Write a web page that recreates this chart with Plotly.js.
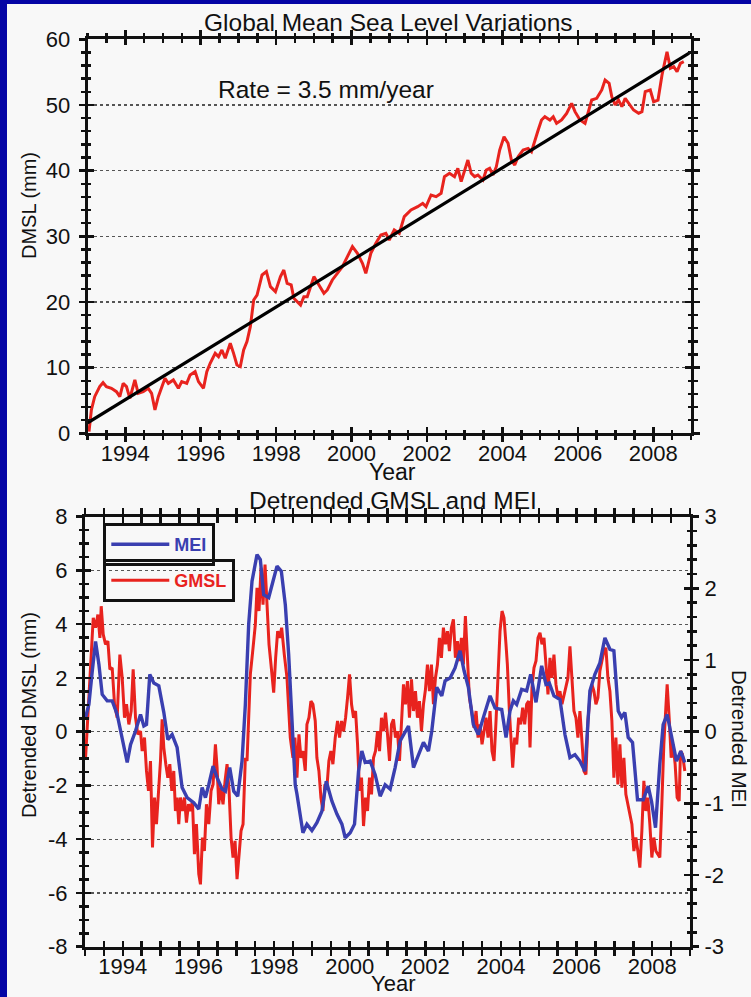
<!DOCTYPE html>
<html>
<head>
<meta charset="utf-8">
<script src="https://cdn.plot.ly/plotly-3.0.1.min.js"></script>
<style>
  html, body { margin: 0; padding: 0; background: #f8f8f8; }
  #chart { width: 751px; height: 997px; }
</style>
</head>
<body>
<div id="chart"></div>
<script>
// ---------- Data ----------
// Top panel: Global Mean Sea Level (mm)
const gmslYears = [
  1993.037, 1993.100, 1993.188, 1993.321, 1993.410, 1993.499, 1993.632, 1993.765, 1993.854, 1993.943,
  1994.031, 1994.120, 1994.253, 1994.342, 1994.475, 1994.608, 1994.697, 1994.786, 1994.875, 1994.963,
  1995.052, 1995.141, 1995.274, 1995.407, 1995.496, 1995.629, 1995.718, 1995.851, 1995.940, 1996.073,
  1996.161, 1996.250, 1996.383, 1996.472, 1996.561, 1996.649, 1996.783, 1996.871, 1996.960, 1997.049,
  1997.138, 1997.226, 1997.315, 1997.404, 1997.493, 1997.626, 1997.741, 1997.848, 1997.981, 1998.114,
  1998.203, 1998.291, 1998.398, 1998.469, 1998.558, 1998.647, 1998.735, 1998.824, 1998.913, 1999.001,
  1999.134, 1999.267, 1999.356, 1999.489, 1999.622, 1999.756, 1999.889, 2000.022, 2000.155, 2000.288,
  2000.377, 2000.510, 2000.643, 2000.776, 2000.909, 2000.998, 2001.131, 2001.264, 2001.397, 2001.575,
  2001.752, 2001.886, 2001.974, 2002.107, 2002.241, 2002.374, 2002.462, 2002.596, 2002.729, 2002.817,
  2002.906, 2002.995, 2003.084, 2003.172, 2003.261, 2003.350, 2003.483, 2003.572, 2003.661, 2003.749,
  2003.838, 2003.927, 2004.042, 2004.149, 2004.237, 2004.326, 2004.415, 2004.548, 2004.681, 2004.770,
  2004.859, 2004.948, 2005.036, 2005.125, 2005.258, 2005.347, 2005.436, 2005.569, 2005.702, 2005.835,
  2005.924, 2006.057, 2006.190, 2006.279, 2006.367, 2006.500, 2006.634, 2006.722, 2006.829, 2006.900,
  2006.989, 2007.077, 2007.166, 2007.255, 2007.343, 2007.477, 2007.610, 2007.699, 2007.787, 2007.920,
  2008.009, 2008.125, 2008.231, 2008.364, 2008.453, 2008.542, 2008.630, 2008.719, 2008.808
];
const gmslValues = [
  0.25, 3.55, 5.58, 7.11, 7.71, 7.11, 6.85, 6.34, 5.58, 7.61,
  7.11, 5.33, 8.12, 6.09, 6.34, 6.85, 6.09, 3.55, 5.58, 7.11,
  8.37, 7.61, 8.12, 6.85, 7.87, 7.61, 8.88, 9.39, 7.87, 6.85,
  9.39, 10.66, 12.18, 11.67, 12.69, 11.42, 13.70, 12.18, 10.40, 10.15,
  12.69, 13.96, 16.24, 20.30, 21.06, 24.11, 24.62, 22.33, 21.57, 23.86,
  24.87, 22.84, 22.59, 20.56, 20.05, 19.54, 20.81, 20.81, 22.33, 23.86,
  22.59, 21.32, 21.83, 23.35, 24.36, 25.38, 26.90, 28.42, 27.41, 25.89,
  24.36, 27.40, 28.93, 30.19, 30.45, 29.43, 30.96, 30.45, 32.99, 34.00,
  34.51, 35.02, 34.51, 36.29, 36.03, 36.54, 39.08, 39.59, 39.08, 40.35,
  38.32, 39.84, 41.62, 39.59, 39.08, 39.33, 38.57, 40.09, 40.35, 39.33,
  40.60, 43.14, 45.17, 44.16, 41.62, 40.85, 42.12, 43.14, 43.39, 42.88,
  44.66, 46.18, 47.71, 48.21, 47.71, 48.21, 47.20, 47.71, 48.72, 50.25,
  48.98, 47.71, 47.20, 48.98, 50.75, 51.01, 52.28, 53.80, 53.29, 51.26,
  49.99, 50.75, 49.74, 51.01, 50.25, 49.23, 48.72, 48.98, 52.02, 52.28,
  50.50, 50.75, 54.56, 58.11, 55.58, 55.83, 55.07, 56.34, 56.59
];
// Linear trend, 3.5 mm/year
const trendYears = [1993.0, 2008.95];
const trendValues = [1.6, 57.9];

// Bottom panel: detrended GMSL (mm)
const detYears = [
  1993.015, 1993.077, 1993.147, 1993.218, 1993.279, 1993.341, 1993.394, 1993.429, 1993.482, 1993.543,
  1993.605, 1993.658, 1993.719, 1993.781, 1993.851, 1993.922, 1993.984, 1994.045, 1994.098, 1994.160,
  1994.221, 1994.274, 1994.336, 1994.397, 1994.468, 1994.512, 1994.573, 1994.626, 1994.679, 1994.732,
  1994.785, 1994.838, 1994.890, 1994.952, 1994.996, 1995.040, 1995.084, 1995.137, 1995.190, 1995.243,
  1995.295, 1995.348, 1995.392, 1995.436, 1995.480, 1995.524, 1995.577, 1995.630, 1995.683, 1995.736,
  1995.788, 1995.841, 1995.894, 1995.947, 1996.009, 1996.053, 1996.105, 1996.158, 1996.211, 1996.273,
  1996.334, 1996.387, 1996.449, 1996.493, 1996.537, 1996.581, 1996.651, 1996.704, 1996.757, 1996.810,
  1996.863, 1996.915, 1996.968, 1997.021, 1997.074, 1997.127, 1997.180, 1997.241, 1997.285, 1997.329,
  1997.373, 1997.444, 1997.505, 1997.549, 1997.602, 1997.655, 1997.708, 1997.761, 1997.813, 1997.866,
  1997.919, 1997.990, 1998.042, 1998.095, 1998.148, 1998.201, 1998.271, 1998.342, 1998.429, 1998.499,
  1998.552, 1998.605, 1998.658, 1998.711, 1998.764, 1998.825, 1998.869, 1998.922, 1998.975, 1999.028,
  1999.089, 1999.133, 1999.186, 1999.239, 1999.292, 1999.345, 1999.397, 1999.450, 1999.503, 1999.556,
  1999.618, 1999.679, 1999.732, 1999.785, 1999.838, 1999.891, 1999.943, 1999.996, 2000.049, 2000.102,
  2000.155, 2000.208, 2000.260, 2000.313, 2000.366, 2000.419, 2000.472, 2000.524, 2000.577, 2000.630,
  2000.683, 2000.736, 2000.789, 2000.841, 2000.894, 2000.947, 2001.000, 2001.053, 2001.106, 2001.158,
  2001.211, 2001.264, 2001.317, 2001.370, 2001.423, 2001.475, 2001.528, 2001.581, 2001.634, 2001.687,
  2001.739, 2001.792, 2001.845, 2001.898, 2001.951, 2002.004, 2002.056, 2002.109, 2002.162, 2002.215,
  2002.268, 2002.321, 2002.373, 2002.426, 2002.479, 2002.532, 2002.585, 2002.638, 2002.690, 2002.743,
  2002.796, 2002.849, 2002.902, 2002.954, 2003.007, 2003.060, 2003.113, 2003.166, 2003.227, 2003.289,
  2003.342, 2003.395, 2003.448, 2003.500, 2003.553, 2003.606, 2003.659, 2003.712, 2003.764, 2003.817,
  2003.870, 2003.923, 2003.976, 2004.029, 2004.081, 2004.134, 2004.170, 2004.223, 2004.275, 2004.311,
  2004.364, 2004.416, 2004.469, 2004.522, 2004.575, 2004.628, 2004.680, 2004.733, 2004.769, 2004.821,
  2004.874, 2004.927, 2004.980, 2005.033, 2005.085, 2005.138, 2005.191, 2005.244, 2005.297, 2005.350,
  2005.402, 2005.455, 2005.508, 2005.561, 2005.614, 2005.667, 2005.719, 2005.772, 2005.825, 2005.878,
  2005.931, 2005.984, 2006.036, 2006.089, 2006.142, 2006.195, 2006.248, 2006.300, 2006.353, 2006.406,
  2006.459, 2006.512, 2006.565, 2006.617, 2006.670, 2006.723, 2006.776, 2006.829, 2006.882, 2006.934,
  2006.987, 2007.040, 2007.093, 2007.146, 2007.199, 2007.251, 2007.304, 2007.357, 2007.410, 2007.463,
  2007.516, 2007.568, 2007.621, 2007.674, 2007.727, 2007.780, 2007.832, 2007.885, 2007.938, 2007.991,
  2008.044, 2008.097, 2008.149, 2008.202, 2008.255, 2008.308, 2008.361, 2008.396, 2008.449, 2008.502,
  2008.554, 2008.607, 2008.660, 2008.713, 2008.748, 2008.801, 2008.863
];
const detValues = [
  -0.97, 0.52, 2.5, 4.24, 3.87, 4.36, 3.49, 4.67, 3.62, 3.25,
  3.37, 2.32, 2.38, 1.02, 0.52, 2.87, 2.0, 0.52, 1.02, 0.27,
  0.77, 2.32, 0.52, -0.1, 0.02, -0.72, -0.22, -1.46, -2.2, -1.09,
  -4.31, -2.45, -3.44, -2.08, -1.09, 0.46, -0.59, -1.21, -1.71, -1.21,
  -2.2, -1.46, -2.95, -2.45, -3.44, -2.45, -2.95, -2.45, -3.38, -2.7,
  -2.95, -2.58, -4.56, -3.44, -5.3, -5.68, -3.94, -4.44, -2.7, -3.44,
  -2.2, -1.96, -0.47, -1.34, -2.7, -2.08, -2.7, -1.83, -1.21, -2.2,
  -3.94, -4.68, -4.06, -5.49, -4.68, -3.69, -3.44, -0.97, -1.09, 0.77,
  2.13, 3.12, 3.99, 5.35, 4.49, 6.1, 4.73, 6.22, 4.49, 3.25,
  2.5, 1.45, 2.75, 3.74, 3.49, 3.87, 2.87, 2.0, -0.22, -0.97,
  -0.22, -1.71, -0.1, -0.97, -0.72, -1.46, 0.27, 0.52, 1.14, 1.02,
  0.4, -0.97, -1.46, -2.45, -2.95, -1.96, -2.08, -1.09, -0.72, -1.21,
  -0.22, 0.4, -0.22, 0.4, 0.02, 0.52, 1.26, 2.13, 1.02, 0.52,
  0.77, -0.47, -2.2, -1.71, -3.51, -2.45, -2.95, -1.71, -2.33, -0.97,
  -0.72, 0.02, -0.72, 0.52, 0.02, 0.71, -0.1, -1.09, 0.27, 0.46,
  -0.22, 0.02, -1.09, 0.52, 1.76, 1.02, 1.88, 0.52, 1.95, 0.77,
  1.51, 0.52, 1.14, 0.02, 1.02, 1.57, 2.5, 1.51, 2.5, 1.02,
  2.0, 2.5, 3.49, 2.75, 3.87, 3.25, 3.74, 3.0, 3.87, 4.18,
  2.75, 3.37, 2.63, 3.49, 2.5, 4.3, 2.5, 1.26, 0.77, 0.15,
  0.77, -0.22, 0.27, -0.47, 0.02, 0.52, -0.22, 0.77, -0.72, -1.09,
  0.4, 2.26, 3.74, 4.49, 4.24, 3.25, 2.5, 0.77, -0.47, -1.34,
  -0.22, -0.47, 0.52, 0.27, 0.89, 0.27, 1.02, 1.14, -0.59, 1.64,
  2.38, 2.63, 3.49, 3.68, 3.25, 3.49, 2.5, 1.39, 2.75, 2.0,
  2.87, 1.76, 1.26, 1.51, 1.02, 1.39, 1.76, 2.0, 3.18, 2.0,
  0.77, 0.52, -0.22, 0.77, -0.47, -1.46, -1.59, 0.4, 1.26, 1.76,
  1.51, 1.02, 1.26, 2.26, 2.63, 3.0, 3.12, 2.0, 1.51, 0.4,
  -1.71, -0.22, -1.96, -0.47, -2.08, -0.97, -2.33, -2.7, -3.2, -3.44,
  -4.44, -3.94, -4.44, -5.06, -3.69, -1.83, -2.95, -2.45, -3.44, -4.68,
  -3.94, -4.44, -4.56, -4.68, -2.7, -0.47, 0.89, 1.76, 0.52, -0.97,
  -0.47, -1.21, -2.45, -2.58, -0.72, -0.84, -1.46
];

// Bottom panel: detrended Multivariate ENSO Index (right axis units)
const meiYears = [
  1993.015, 1993.103, 1993.191, 1993.279, 1993.367, 1993.455, 1993.587, 1993.719, 1993.851, 1993.984,
  1994.116, 1994.204, 1994.336, 1994.468, 1994.556, 1994.626, 1994.714, 1994.820, 1994.952, 1995.084,
  1995.190, 1995.304, 1995.436, 1995.568, 1995.700, 1995.876, 1996.009, 1996.097, 1996.185, 1996.273,
  1996.387, 1996.493, 1996.625, 1996.713, 1996.827, 1996.933, 1997.039, 1997.153, 1997.241, 1997.329,
  1997.417, 1997.549, 1997.637, 1997.725, 1997.858, 1997.972, 1998.078, 1998.192, 1998.298, 1998.386,
  1998.470, 1998.560, 1998.605, 1998.764, 1998.869, 1999.001, 1999.133, 1999.265, 1999.380, 1999.530,
  1999.662, 1999.794, 1999.882, 2000.014, 2000.128, 2000.234, 2000.322, 2000.410, 2000.542, 2000.674,
  2000.806, 2000.938, 2001.070, 2001.202, 2001.334, 2001.467, 2001.555, 2001.687, 2001.819, 2001.951,
  2002.083, 2002.171, 2002.303, 2002.435, 2002.523, 2002.655, 2002.787, 2002.919, 2003.025, 2003.139,
  2003.271, 2003.403, 2003.536, 2003.712, 2003.844, 2004.020, 2004.135, 2004.240, 2004.328, 2004.416,
  2004.548, 2004.680, 2004.786, 2004.927, 2005.077, 2005.191, 2005.279, 2005.402, 2005.561, 2005.693,
  2005.825, 2005.957, 2006.089, 2006.221, 2006.353, 2006.485, 2006.617, 2006.750, 2006.882, 2006.987,
  2007.102, 2007.190, 2007.278, 2007.366, 2007.480, 2007.612, 2007.762, 2007.894, 2007.982, 2008.088,
  2008.202, 2008.290, 2008.396, 2008.511, 2008.643, 2008.757, 2008.863
];
const meiValues = [
  0.20, 0.38, 0.84, 1.26, 0.94, 0.52, 0.43, 0.43, 0.24, -0.08,
  -0.43, -0.18, 0.01, 0.24, 0.08, 0.10, 0.80, 0.68, 0.64, 0.27,
  -0.11, -0.04, -0.22, -0.78, -0.92, -0.99, -1.08, -0.78, -0.92, -0.74,
  -0.48, -0.64, -0.80, -0.83, -0.50, -0.83, -0.90, -0.41, 0.38, 1.50,
  2.10, 2.47, 2.40, 1.91, 1.87, 2.10, 2.31, 2.24, 1.77, 1.08,
  0.11, -0.74, -0.87, -1.41, -1.29, -1.38, -1.27, -1.11, -0.69, -0.97,
  -1.15, -1.29, -1.48, -1.41, -1.29, -0.55, -0.27, -0.43, -0.41, -0.60,
  -0.90, -0.74, -0.80, -0.50, -0.13, 0.01, 0.08, -0.50, -0.32, -0.15,
  -0.27, 0.01, 0.62, 0.50, 0.71, 0.75, 0.89, 1.13, 0.85, 0.62,
  0.10, -0.04, 0.20, 0.50, 0.33, 0.31, -0.08, 0.29, 0.43, 0.38,
  0.59, 0.57, 0.80, 0.41, 0.92, 0.66, 0.68, 0.50, 0.45, -0.04,
  -0.36, -0.32, -0.41, -0.55, 0.57, 0.80, 0.96, 1.31, 1.15, 1.13,
  0.29, 0.20, 0.27, -0.08, -0.15, -0.95, -0.95, -0.76, -0.97, -1.34,
  -0.45, 0.10, 0.24, -0.04, -0.41, -0.27, -0.43
];

// Tick labels
const yearTicks = [1994, 1996, 1998, 2000, 2002, 2004, 2006, 2008];
const yearLabels = ['1994', '1996', '1998', '2000', '2002', '2004', '2006', '2008'];
const dmslTicks = [0, 10, 20, 30, 40, 50, 60];
const dmslLabels = ['0', '10', '20', '30', '40', '50', '60'];
const detTicks = [-8, -6, -4, -2, 0, 2, 4, 6, 8];
const detLabels = ['-8', '-6', '-4', '-2', '0', '2', '4', '6', '8'];
const meiTicks = [-3, -2, -1, 0, 1, 2, 3];
const meiLabels = ['-3', '-2', '-1', '0', '1', '2', '3'];

// ---------- Styling ----------
const W = 751, H = 997;
const FONT = 'Liberation Sans, Arial, Helvetica, sans-serif';
const INK = '#111111';
const RED = '#e8231e';
const BLUE = '#3a3fb0';
const px = v => v / W;
const py = v => 1 - v / H;

const xTopDomain = [px(87.6), px(691)];
const yTopDomain = [py(433.3), py(39.3)];
const xBotDomain = [px(85), px(690)];
const yBotDomain = [py(946.7), py(516.7)];

const MAJ = 6, MIN = 3.5, TW = 2.5;

function baseAxis(extra) {
  return Object.assign({
    ticks: 'outside', ticklen: MAJ, tickwidth: TW, tickcolor: INK,
    showline: true, linewidth: 3, linecolor: INK,
    showgrid: false, zeroline: false, fixedrange: true,
    tickfont: { family: FONT, size: 22, color: INK }
  }, extra);
}
function insideAxis(extra) {
  return Object.assign({
    ticks: 'inside', ticklen: MAJ, tickwidth: TW, tickcolor: INK,
    showline: false, showticklabels: false,
    showgrid: false, zeroline: false, fixedrange: true
  }, extra);
}
function minor(dtick, dir) {
  return { dtick: dtick, tick0: 0, ticks: dir, ticklen: MIN, tickwidth: TW, tickcolor: INK, showgrid: false };
}
const gridStyle = { showgrid: true, gridcolor: '#555555', gridwidth: 1.3, griddash: 'dot' };

const traces = [
  // top panel
  { x: gmslYears, y: gmslValues, xaxis: 'x', yaxis: 'y', type: 'scatter', mode: 'lines',
    line: { color: RED, width: 3 }, showlegend: false, hoverinfo: 'skip' },
  { x: trendYears, y: trendValues, xaxis: 'x', yaxis: 'y', type: 'scatter', mode: 'lines',
    line: { color: '#000000', width: 3.2 }, showlegend: false, hoverinfo: 'skip' },
  { x: [], y: [], xaxis: 'x3', yaxis: 'y3', type: 'scatter', mode: 'lines', showlegend: false, hoverinfo: 'skip' },
  // bottom panel
  { x: detYears, y: detValues, xaxis: 'x2', yaxis: 'y2', type: 'scatter', mode: 'lines', name: 'GMSL',
    legend: 'legend2', line: { color: RED, width: 3 }, hoverinfo: 'skip' },
  { x: meiYears, y: meiValues, xaxis: 'x2', yaxis: 'y4', type: 'scatter', mode: 'lines', name: 'MEI',
    legend: 'legend', line: { color: BLUE, width: 3.4 }, hoverinfo: 'skip' },
  { x: [], y: [], xaxis: 'x4', yaxis: 'y5', type: 'scatter', mode: 'lines', showlegend: false, hoverinfo: 'skip' },
  { x: [], y: [], xaxis: 'x4', yaxis: 'y6', type: 'scatter', mode: 'lines', showlegend: false, hoverinfo: 'skip' }
];

function ann(text, x, y, size, extra) {
  return Object.assign({
    text: text, xref: 'paper', yref: 'paper', x: px(x), y: py(y),
    xanchor: 'center', yanchor: 'middle', showarrow: false,
    font: { family: FONT, size: size, color: INK }
  }, extra || {});
}

const legendBase = {
  bgcolor: 'rgba(0,0,0,0)', bordercolor: INK, borderwidth: 3,
  xref: 'paper', yref: 'paper', xanchor: 'left', yanchor: 'top',
  itemwidth: 58, itemclick: false, itemdoubleclick: false
};

const layout = {
  width: W, height: H,
  margin: { l: 0, r: 0, t: 0, b: 0, pad: 0 },
  paper_bgcolor: '#f8f8f8', plot_bgcolor: '#f8f8f8',
  font: { family: FONT, color: INK },
  // ---- top panel axes ----
  xaxis: baseAxis({ domain: xTopDomain, anchor: 'y', range: [1993, 2009],
    tickmode: 'array', tickvals: yearTicks, ticktext: yearLabels, ticklabelstandoff: -8,
    mirror: 'allticks', minor: minor(0.5, 'outside') }),
  yaxis: baseAxis(Object.assign({ domain: yTopDomain, anchor: 'x', range: [0, 60],
    tickmode: 'array', tickvals: dmslTicks, ticktext: dmslLabels,
    mirror: 'allticks', ticklabelstandoff: 4, minor: minor(2, 'outside') }, gridStyle)),
  xaxis3: insideAxis({ overlaying: 'x', anchor: 'y', range: [1993, 2009],
    tickmode: 'array', tickvals: yearTicks, mirror: 'allticks', minor: minor(0.5, 'inside') }),
  yaxis3: insideAxis({ overlaying: 'y', anchor: 'x', range: [0, 60],
    tickmode: 'array', tickvals: dmslTicks, mirror: 'allticks', minor: minor(2, 'inside') }),
  // ---- bottom panel axes ----
  xaxis2: baseAxis({ domain: xBotDomain, anchor: 'y2', range: [1993, 2009],
    tickmode: 'array', tickvals: yearTicks, ticktext: yearLabels, ticklabelstandoff: -8,
    mirror: 'allticks', minor: minor(0.5, 'outside') }),
  yaxis2: baseAxis(Object.assign({ domain: yBotDomain, anchor: 'x2', range: [-8, 8],
    tickmode: 'array', tickvals: detTicks, ticktext: detLabels, ticklabelstandoff: 4,
    minor: minor(0.5, 'outside') }, gridStyle)),
  yaxis4: baseAxis({ overlaying: 'y2', anchor: 'x2', side: 'right', range: [-3, 3],
    tickmode: 'array', tickvals: meiTicks, ticktext: meiLabels, ticklabelstandoff: 1,
    minor: minor(0.2, 'outside') }),
  xaxis4: insideAxis({ overlaying: 'x2', anchor: 'y2', range: [1993, 2009],
    tickmode: 'array', tickvals: yearTicks, mirror: 'allticks', minor: minor(0.5, 'inside') }),
  yaxis5: insideAxis({ overlaying: 'y2', anchor: 'x2', side: 'left', range: [-8, 8],
    tickmode: 'array', tickvals: detTicks, minor: minor(0.5, 'inside') }),
  yaxis6: insideAxis({ overlaying: 'y2', anchor: 'x2', side: 'right', range: [-3, 3],
    tickmode: 'array', tickvals: meiTicks, minor: minor(0.2, 'inside') }),
  // ---- legends (two separate boxes) ----
  legend: Object.assign({}, legendBase, { x: px(103.3), y: py(523),
    font: { family: FONT, size: 18, weight: 'bold', color: BLUE } }),
  legend2: Object.assign({}, legendBase, { x: px(103.3), y: py(559),
    font: { family: FONT, size: 18, weight: 'bold', color: RED } }),
  // ---- texts ----
  annotations: [
    ann('Global Mean Sea Level Variations', 388, 22, 24.5),
    ann('Rate = 3.5 mm/year', 325.7, 89.5, 24.5),
    ann('Year', 393, 472, 23),
    ann('DMSL (mm)', 29, 205, 20, { textangle: -90 }),
    ann('Detrended GMSL and MEI', 393, 500, 24.5),
    ann('Year', 393, 983, 22),
    ann('Detrended DMSL (mm)', 29, 715, 20, { textangle: -90 }),
    ann('Detrended MEI', 740, 739, 20.5, { textangle: 90 })
  ],
  // ---- dark blue frame strips (left and top) ----
  shapes: [
    { type: 'rect', xref: 'paper', yref: 'paper', x0: 0, x1: px(7), y0: 0, y1: 1,
      fillcolor: '#0505a5', line: { width: 0 }, layer: 'above' },
    { type: 'rect', xref: 'paper', yref: 'paper', x0: 0, x1: 1, y0: py(4), y1: 1,
      fillcolor: '#0505a5', line: { width: 0 }, layer: 'above' }
  ]
};

Plotly.newPlot('chart', traces, layout, { staticPlot: true, displayModeBar: false });
</script>
</body>
</html>
